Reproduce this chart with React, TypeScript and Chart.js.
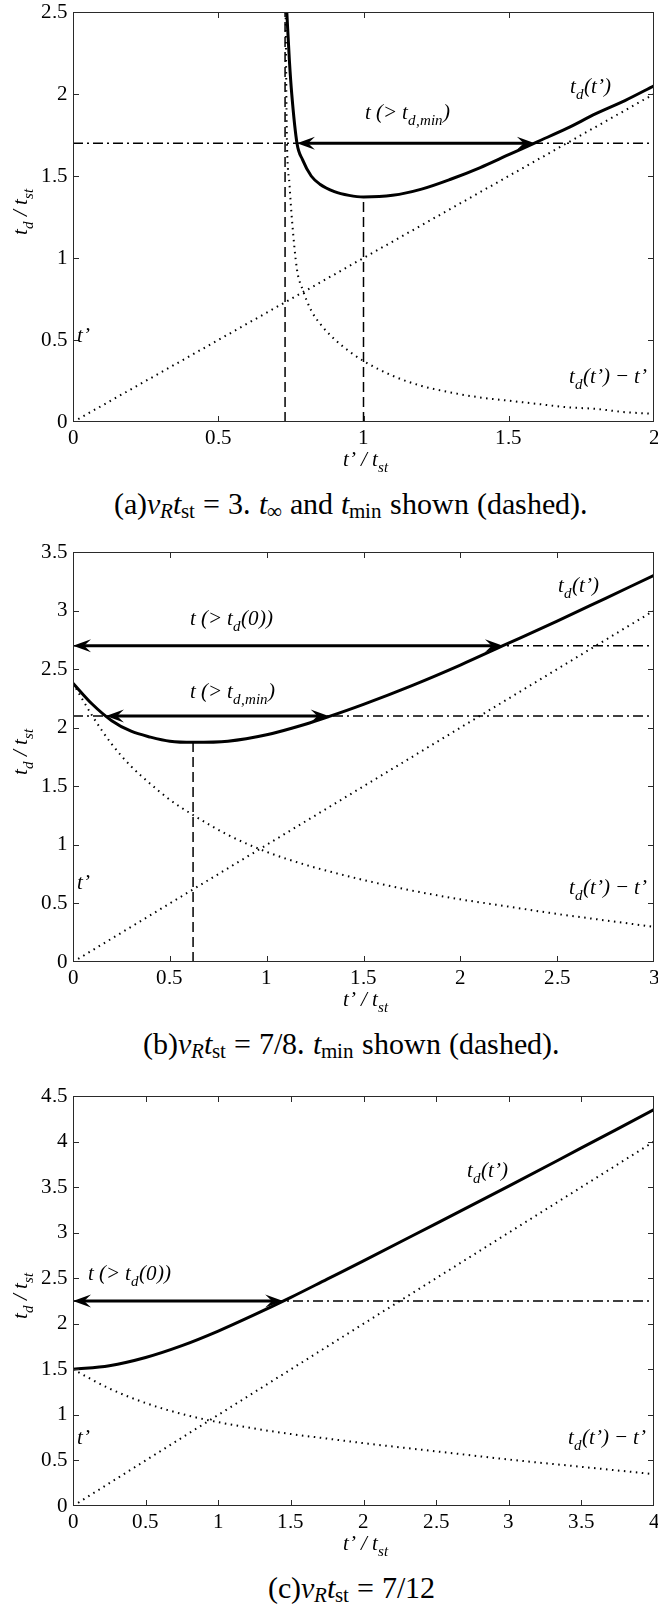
import React, { useEffect, useRef } from "react";
import { Chart, registerables } from "chart.js";

Chart.register(...registerables);

// ---------------- Panel (a): nu_R t_st = 3 ----------------
const aXMax = 2;
const aYMax = 2.5;
const aXTicks = ["0", "0.5", "1", "1.5", "2"];
const aYTicks = ["0", "0.5", "1", "1.5", "2", "2.5"];
const aTdX = [0.736, 0.745, 0.753, 0.771, 0.79, 0.82, 0.85, 0.9, 0.95, 1.0, 1.1, 1.2, 1.3, 1.4, 1.5, 1.6, 1.7, 1.8, 1.9, 2.0];
const aTd = [2.5, 2.2, 2.0, 1.7, 1.6, 1.5, 1.45, 1.405, 1.382, 1.372, 1.382, 1.42, 1.48, 1.55, 1.63, 1.71, 1.79, 1.88, 1.96, 2.05];
const aDiffX = [0.732, 0.736, 0.745, 0.753, 0.771, 0.79, 0.82, 0.85, 0.9, 0.95, 1.0, 1.1, 1.2, 1.3, 1.4, 1.5, 1.6, 1.7, 1.8, 1.9, 2.0];
const aDiff = [2.5, 1.76, 1.455, 1.25, 0.93, 0.81, 0.68, 0.6, 0.505, 0.432, 0.372, 0.282, 0.22, 0.18, 0.15, 0.13, 0.11, 0.09, 0.08, 0.06, 0.05];
const aTpX = [0, 2];
const aTp = [0, 2];
const aDashedX = [0.73, 1.0];
const aDashedTop = [2.5, 1.372];
const aLevels = [1.7];
const aArrowY = [1.7];
const aArrowFrom = [0.771];
const aArrowTo = [1.59];

// ---------------- Panel (b): nu_R t_st = 7/8 ----------------
const bXMax = 3;
const bYMax = 3.5;
const bXTicks = ["0", "0.5", "1", "1.5", "2", "2.5", "3"];
const bYTicks = ["0", "0.5", "1", "1.5", "2", "2.5", "3", "3.5"];
const bX = [0, 0.1, 0.2, 0.3, 0.4, 0.5, 0.62, 0.8, 1.0, 1.2, 1.32, 1.5, 1.75, 2.0, 2.22, 2.5, 2.75, 3.0];
const bTd = [2.38, 2.2, 2.06, 1.97, 1.92, 1.885, 1.875, 1.885, 1.94, 2.03, 2.095, 2.2, 2.36, 2.535, 2.7, 2.91, 3.105, 3.3];
const bDiff = [2.38, 2.1, 1.86, 1.67, 1.52, 1.385, 1.255, 1.085, 0.94, 0.83, 0.775, 0.7, 0.61, 0.535, 0.48, 0.41, 0.355, 0.3];
const bTpX = [0, 3];
const bTp = [0, 3];
const bDashedX = [0.62];
const bDashedTop = [1.875];
const bLevels = [2.7, 2.1];
const bArrowY = [2.7, 2.1];
const bArrowFrom = [0, 0.17];
const bArrowTo = [2.22, 1.32];

// ---------------- Panel (c): nu_R t_st = 7/12 ----------------
const cXMax = 4;
const cYMax = 4.5;
const cXTicks = ["0", "0.5", "1", "1.5", "2", "2.5", "3", "3.5", "4"];
const cYTicks = ["0", "0.5", "1", "1.5", "2", "2.5", "3", "3.5", "4", "4.5"];
const cX = [0, 0.25, 0.5, 0.75, 1.0, 1.25, 1.5, 1.75, 2.0, 2.5, 3.0, 3.5, 4.0];
const cTd = [1.5, 1.54, 1.63, 1.76, 1.92, 2.1, 2.29, 2.49, 2.69, 3.1, 3.51, 3.93, 4.35];
const cDiff = [1.5, 1.29, 1.13, 1.01, 0.92, 0.85, 0.79, 0.74, 0.69, 0.6, 0.51, 0.43, 0.35];
const cTpX = [0, 4];
const cTp = [0, 4];
const cDashedX: number[] = [];
const cDashedTop: number[] = [];
const cLevels = [2.25];
const cArrowY = [2.25];
const cArrowFrom = [0];
const cArrowTo = [1.447];

// ---------------- Text ----------------
type Seg = { t: string; sub?: boolean };
type Lbl = { x: number; y: number; segs: Seg[] };

const segTd: Seg[] = [{ t: "t" }, { t: "d", sub: true }, { t: "(t\u2019)" }];
const segTp: Seg[] = [{ t: "t\u2019" }];
const segDiff: Seg[] = [{ t: "t" }, { t: "d", sub: true }, { t: "(t\u2019) \u2212 t\u2019" }];
const segMin: Seg[] = [{ t: "t (> t" }, { t: "d,min", sub: true }, { t: ")" }];
const segZero: Seg[] = [{ t: "t (> t" }, { t: "d", sub: true }, { t: "(0))" }];

const aLabels: Lbl[] = [
  { x: 1.711, y: 2.006, segs: segTd },
  { x: 1.005, y: 1.85, segs: segMin },
  { x: 0.015, y: 0.49, segs: segTp },
  { x: 1.707, y: 0.24, segs: segDiff },
];
const bLabels: Lbl[] = [
  { x: 2.504, y: 3.16, segs: segTd },
  { x: 0.604, y: 2.877, segs: segZero },
  { x: 0.604, y: 2.254, segs: segMin },
  { x: 0.02, y: 0.62, segs: segTp },
  { x: 2.56, y: 0.58, segs: segDiff },
];
const cLabels: Lbl[] = [
  { x: 2.71, y: 3.61, segs: segTd },
  { x: 0.1, y: 2.48, segs: segZero },
  { x: 0.03, y: 0.68, segs: segTp },
  { x: 3.41, y: 0.68, segs: segDiff },
];

const yTitle: Seg[] = [{ t: "t" }, { t: "d", sub: true }, { t: " / t" }, { t: "st", sub: true }];
const xTitle: Seg[] = [{ t: "t\u2019 / t" }, { t: "st", sub: true }];

// Register the installed Liberation Serif under an explicit face so canvas text uses it.
const faces: any[] = [];
try {
  const FF: any = (window as any).FontFace;
  if (FF) {
    faces.push(new FF("LSerif", "local('Liberation Serif'), local('LiberationSerif')", { style: "normal", weight: "400" }));
    faces.push(new FF("LSerif", "local('Liberation Serif Italic'), local('LiberationSerif-Italic')", { style: "italic", weight: "400" }));
    faces.forEach((f) => (document as any).fonts.add(f));
  }
} catch (e) {
  /* ignore */
}
const fontsReady: Promise<any> = Promise.all(faces.map((f) => f.load().catch(() => null)));

const FONT = 'LSerif, "Liberation Serif", "Times New Roman", serif';

type Panel = {
  xMax: number;
  yMax: number;
  xTicks: string[];
  yTicks: string[];
  tdX: number[];
  td: number[];
  diffX: number[];
  diff: number[];
  tpX: number[];
  tp: number[];
  dashedX: number[];
  dashedTop: number[];
  levels: number[];
  arrowY: number[];
  arrowFrom: number[];
  arrowTo: number[];
  labels: Lbl[];
};

const panelA: Panel = { xMax: aXMax, yMax: aYMax, xTicks: aXTicks, yTicks: aYTicks, tdX: aTdX, td: aTd, diffX: aDiffX, diff: aDiff, tpX: aTpX, tp: aTp, dashedX: aDashedX, dashedTop: aDashedTop, levels: aLevels, arrowY: aArrowY, arrowFrom: aArrowFrom, arrowTo: aArrowTo, labels: aLabels };
const panelB: Panel = { xMax: bXMax, yMax: bYMax, xTicks: bXTicks, yTicks: bYTicks, tdX: bX, td: bTd, diffX: bX, diff: bDiff, tpX: bTpX, tp: bTp, dashedX: bDashedX, dashedTop: bDashedTop, levels: bLevels, arrowY: bArrowY, arrowFrom: bArrowFrom, arrowTo: bArrowTo, labels: bLabels };
const panelC: Panel = { xMax: cXMax, yMax: cYMax, xTicks: cXTicks, yTicks: cYTicks, tdX: cX, td: cTd, diffX: cX, diff: cDiff, tpX: cTpX, tp: cTp, dashedX: cDashedX, dashedTop: cDashedTop, levels: cLevels, arrowY: cArrowY, arrowFrom: cArrowFrom, arrowTo: cArrowTo, labels: cLabels };

function drawRich(ctx: CanvasRenderingContext2D, segs: Seg[], x: number, y: number, size: number, align: "left" | "center") {
  const sub = Math.round(size * 0.72);
  const widths = segs.map((s) => {
    ctx.font = `italic ${s.sub ? sub : size}px ${FONT}`;
    return ctx.measureText(s.t).width;
  });
  const total = widths.reduce((p, q) => p + q, 0);
  let cx = align === "center" ? x - total / 2 : x;
  ctx.textAlign = "left";
  ctx.textBaseline = "alphabetic";
  segs.forEach((s, i) => {
    ctx.font = `italic ${s.sub ? sub : size}px ${FONT}`;
    ctx.fillText(s.t, cx, s.sub ? y + size * 0.3 : y);
    cx += widths[i];
  });
}

function arrowHead(ctx: CanvasRenderingContext2D, tx: number, ty: number, dir: number) {
  const L = 18;
  const W = 6.5;
  ctx.beginPath();
  ctx.moveTo(tx, ty);
  ctx.lineTo(tx - dir * L, ty - W);
  ctx.lineTo(tx - dir * L * 0.62, ty);
  ctx.lineTo(tx - dir * L, ty + W);
  ctx.closePath();
  ctx.fill();
}

function makePlugin(p: Panel) {
  return {
    id: "decor",
    afterDatasetsDraw(chart: any) {
      const { ctx, chartArea: a, scales } = chart;
      const xs = scales.x;
      const ys = scales.y;
      ctx.save();
      ctx.fillStyle = "#000";
      ctx.strokeStyle = "#000";
      ctx.lineWidth = 3;
      p.arrowY.forEach((yv, i) => {
        const py = ys.getPixelForValue(yv);
        const x1 = xs.getPixelForValue(p.arrowFrom[i]);
        const x2 = xs.getPixelForValue(p.arrowTo[i]);
        ctx.beginPath();
        ctx.moveTo(x1 + 8, py);
        ctx.lineTo(x2 - 8, py);
        ctx.stroke();
        arrowHead(ctx, x1, py, -1);
        arrowHead(ctx, x2, py, 1);
      });
      ctx.strokeStyle = "#2a2a2a";
      ctx.lineWidth = 1;
      ctx.strokeRect(a.left + 0.5, a.top + 0.5, a.right - a.left - 1, a.bottom - a.top - 1);
      const T = 6;
      ctx.beginPath();
      xs.ticks.forEach((t: any) => {
        const px = Math.round(xs.getPixelForValue(t.value)) + 0.5;
        if (px < a.left + 2 || px > a.right - 2) return;
        ctx.moveTo(px, a.bottom);
        ctx.lineTo(px, a.bottom - T);
        ctx.moveTo(px, a.top);
        ctx.lineTo(px, a.top + T);
      });
      ys.ticks.forEach((t: any) => {
        const py = Math.round(ys.getPixelForValue(t.value)) + 0.5;
        if (py < a.top + 2 || py > a.bottom - 2) return;
        ctx.moveTo(a.left, py);
        ctx.lineTo(a.left + T, py);
        ctx.moveTo(a.right, py);
        ctx.lineTo(a.right - T, py);
      });
      ctx.stroke();
      ctx.fillStyle = "#000";
      p.labels.forEach((l) => {
        drawRich(ctx, l.segs, xs.getPixelForValue(l.x), ys.getPixelForValue(l.y), 21, "left");
      });
      drawRich(ctx, xTitle, (a.left + a.right) / 2 + 2, a.bottom + 44, 21, "center");
      ctx.save();
      ctx.translate(27, (a.top + a.bottom) / 2 - 5);
      ctx.rotate(-Math.PI / 2);
      drawRich(ctx, yTitle, 0, 0, 21, "center");
      ctx.restore();
      ctx.restore();
    },
  };
}

const pts = (xs: number[], ys: number[]) => xs.map((x, i) => ({ x, y: ys[i] }));

function buildConfig(p: Panel): any {
  const base = { showLine: true, pointRadius: 0, pointHoverRadius: 0, borderColor: "#000", backgroundColor: "#000", fill: false };
  const datasets: any[] = [
    { ...base, data: pts(p.tdX, p.td), borderWidth: 3, cubicInterpolationMode: "monotone" },
    { ...base, data: pts(p.diffX, p.diff), borderWidth: 2, borderDash: [1.5, 4.5], cubicInterpolationMode: "monotone" },
    { ...base, data: pts(p.tpX, p.tp), borderWidth: 2, borderDash: [1.5, 4.5] },
    ...p.dashedX.map((x, i) => ({ ...base, data: [{ x, y: 0 }, { x, y: p.dashedTop[i] }], borderWidth: 1.5, borderDash: [10, 5] })),
    ...p.levels.map((l) => ({ ...base, data: [{ x: 0, y: l }, { x: p.xMax, y: l }], borderWidth: 1.4, borderDash: [10, 4, 2, 4] })),
  ];
  const tickFont = { family: FONT, size: 21 };
  const fmt = (labels: string[]) => (v: number) => {
    const idx = Math.round(v / 0.5);
    return labels[idx] !== undefined ? labels[idx] : "";
  };
  return {
    type: "scatter",
    data: { datasets },
    options: {
      animation: false,
      responsive: false,
      maintainAspectRatio: false,
      devicePixelRatio: 1,
      events: [],
      layout: { padding: { left: 0, top: 12, right: 4, bottom: 0 } },
      plugins: { legend: { display: false }, tooltip: { enabled: false }, title: { display: false } },
      scales: {
        x: {
          type: "linear",
          min: 0,
          max: p.xMax,
          ticks: { stepSize: 0.5, font: tickFont, color: "#000", padding: 4, maxRotation: 0, autoSkip: false, callback: fmt(p.xTicks) },
          grid: { display: false, drawTicks: false },
          border: { display: false },
          afterFit: (s: any) => {
            s.height = 60;
            s.paddingLeft = 0;
            s.paddingRight = 0;
          },
        },
        y: {
          type: "linear",
          min: 0,
          max: p.yMax,
          ticks: { stepSize: 0.5, font: tickFont, color: "#000", padding: 5, autoSkip: false, callback: fmt(p.yTicks) },
          grid: { display: false, drawTicks: false },
          border: { display: false },
          afterFit: (s: any) => {
            s.width = 73;
            s.paddingTop = 0;
            s.paddingBottom = 0;
          },
        },
      },
    },
    plugins: [makePlugin(p)],
  };
}

function ChartPanel({ panel, top }: { panel: Panel; top: number }) {
  const ref = useRef<HTMLCanvasElement>(null);
  useEffect(() => {
    const chart = new Chart(ref.current as HTMLCanvasElement, buildConfig(panel));
    let dead = false;
    fontsReady
      .then(() => (document as any).fonts.ready)
      .then(() => {
        if (!dead) chart.update();
      })
      .catch(() => {});
    return () => {
      dead = true;
      chart.destroy();
    };
  }, [panel]);
  return <canvas ref={ref} width={658} height={482} style={{ position: "absolute", left: 0, top, width: 658, height: 482 }} />;
}

const subStyle: React.CSSProperties = { fontSize: "0.7em", position: "relative", top: "0.2em" };

function Caption({ top, children }: { top: number; children: React.ReactNode }) {
  return (
    <div style={{ position: "absolute", left: 51, width: 600, top, textAlign: "center", fontFamily: FONT, fontSize: 30, lineHeight: "30px", color: "#000", whiteSpace: "nowrap" }}>
      {children}
    </div>
  );
}

function NuT() {
  return (
    <>
      <i>ν</i>
      <span style={subStyle}><i>R</i></span>
      <i>t</i>
      <span style={subStyle}>st</span>
    </>
  );
}

export default function App() {
  return (
    <div style={{ position: "absolute", left: 0, top: 0, width: 658, height: 1606, background: "#fff", overflow: "hidden", fontFamily: FONT }}>
      <ChartPanel panel={panelA} top={0} />
      <Caption top={489}>
        (a)<NuT />{" = 3. "}<i>t</i><span style={subStyle}>∞</span>{" and "}<i>t</i><span style={subStyle}>min</span>{" shown (dashed)."}
      </Caption>
      <ChartPanel panel={panelB} top={540} />
      <Caption top={1029}>
        (b)<NuT />{" = 7/8. "}<i>t</i><span style={subStyle}>min</span>{" shown (dashed)."}
      </Caption>
      <ChartPanel panel={panelC} top={1084} />
      <Caption top={1573}>
        (c)<NuT />{" = 7/12"}
      </Caption>
    </div>
  );
}
